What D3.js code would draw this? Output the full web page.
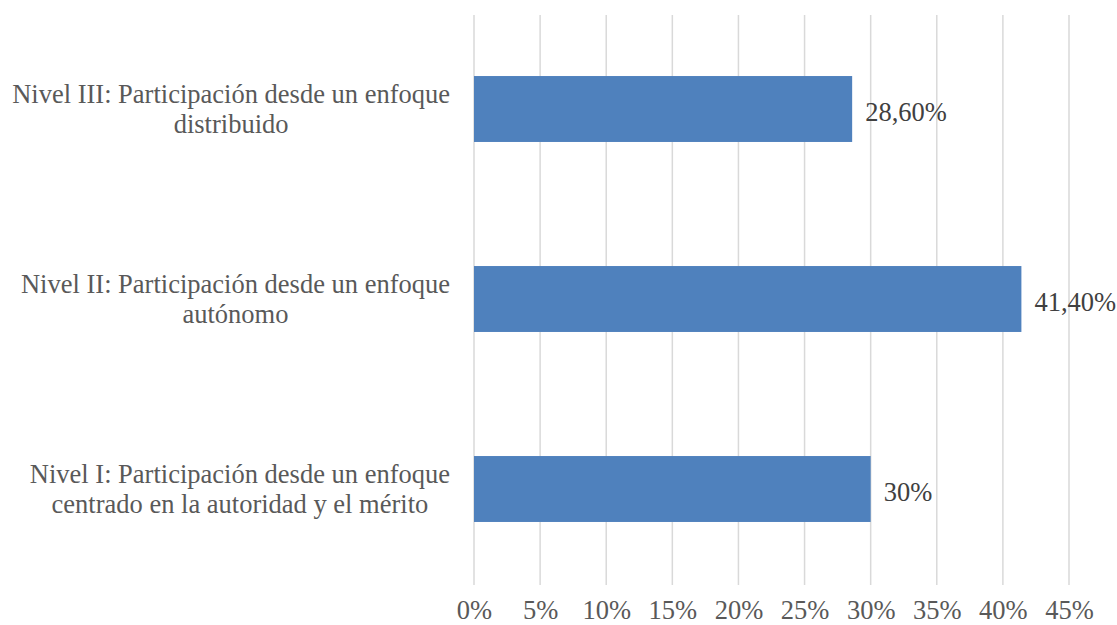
<!DOCTYPE html>
<html>
<head>
<meta charset="utf-8">
<script src="https://cdn.jsdelivr.net/npm/d3@7"></script>
<style>
  html, body { margin: 0; padding: 0; background: #fff; }
  svg { display: block; }
  text { font-family: "Liberation Serif", "Times New Roman", serif; }
</style>
</head>
<body>
<svg id="chart" width="1117" height="625"></svg>
<script>
// Data (top to bottom)
const categories = [
  "Nivel III: Participación desde un enfoque distribuido",
  "Nivel II: Participación desde un enfoque autónomo",
  "Nivel I: Participación desde un enfoque centrado en la autoridad y el mérito"
];
const values = [0.286, 0.414, 0.30];
const valueLabels = ["28,60%", "41,40%", "30%"];
const tickValues = [0, 0.05, 0.10, 0.15, 0.20, 0.25, 0.30, 0.35, 0.40, 0.45];
const tickLabels = ["0%", "5%", "10%", "15%", "20%", "25%", "30%", "35%", "40%", "45%"];

const svg = d3.select("#chart");
const fontSize = 26.5;
const plot = { left: 474, right: 1069, top: 15, bottom: 585 };

const x = d3.scaleLinear().domain([0, 0.45]).range([plot.left, plot.right]);
const y = d3.scaleBand().domain(categories).range([plot.top, plot.bottom])
  .paddingInner(0.653).paddingOuter(0.3265);

// gridlines
svg.append("g").selectAll("line").data(tickValues).join("line")
  .attr("x1", d => x(d)).attr("x2", d => x(d))
  .attr("y1", plot.top).attr("y2", plot.bottom)
  .attr("stroke", "#d9d9d9").attr("stroke-width", 1.5);

// x axis labels
const xAxis = d3.axisBottom(x).tickValues(tickValues)
  .tickFormat((d, i) => tickLabels[i]).tickSize(0).tickPadding(0);
const gx = svg.append("g").attr("transform", `translate(0,${plot.bottom})`).call(xAxis);
gx.select(".domain").remove();
gx.selectAll("text")
  .attr("y", 24.5).attr("dy", "0.35em")
  .attr("font-family", "Liberation Serif, Times New Roman, serif")
  .attr("font-size", fontSize).attr("fill", "#595959");

// bars
svg.append("g").selectAll("rect").data(categories).join("rect")
  .attr("x", x(0)).attr("y", d => y(d) - 1)
  .attr("width", (d, i) => x(values[i]) - x(0))
  .attr("height", y.bandwidth())
  .attr("fill", "#4f81bd");

// value labels
svg.append("g").selectAll("text").data(categories).join("text")
  .attr("x", (d, i) => x(values[i]) + 13)
  .attr("y", d => y(d) + y.bandwidth() / 2 + 2)
  .attr("dy", "0.35em")
  .attr("font-size", fontSize).attr("fill", "#404040")
  .text((d, i) => valueLabels[i]);

// category labels with wrapping
const labelRight = 450, maxW = 452, lineH = 30;
const gy = svg.append("g");
categories.forEach(cat => {
  const t = gy.append("text").attr("font-size", fontSize).attr("fill", "#595959").attr("text-anchor", "middle");
  const words = cat.split(" ");
  const lines = [];
  let cur = [];
  const probe = gy.append("text").attr("font-size", fontSize);
  words.forEach(w => {
    const test = cur.concat([w]).join(" ");
    probe.text(test);
    if (probe.node().getComputedTextLength() > maxW && cur.length) {
      lines.push(cur.join(" "));
      cur = [w];
    } else cur.push(w);
  });
  if (cur.length) lines.push(cur.join(" "));
  let maxLen = 0;
  lines.forEach(l => { probe.text(l); maxLen = Math.max(maxLen, probe.node().getComputedTextLength()); });
  probe.remove();
  const cx = labelRight - maxLen / 2;
  const cy = y(cat) + y.bandwidth() / 2 - 1;
  const y0 = cy - (lines.length - 1) * lineH / 2;
  lines.forEach((l, i) => {
    t.append("tspan").attr("x", cx).attr("y", y0 + i * lineH).attr("dy", "0.35em").text(l);
  });
});
</script>
</body>
</html>
